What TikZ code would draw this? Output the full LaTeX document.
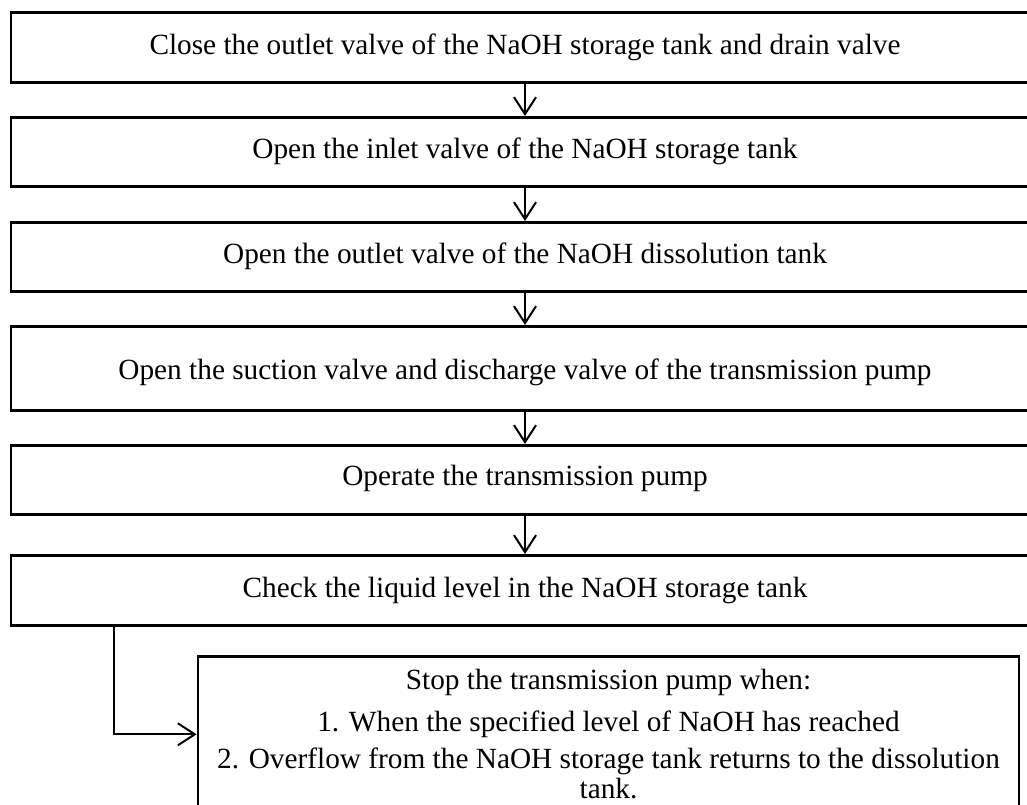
\documentclass[tikz,border=0pt]{standalone}
\usepackage{fontspec}
\setmainfont{Liberation Serif}
\usetikzlibrary{arrows.meta,calc}
\tikzset{
  stepbox/.style={draw, line width=2.6pt, minimum width=1028pt, inner sep=0pt, anchor=north},
  boxtext/.style={font=\fontsize{29.3}{34}\selectfont, inner sep=0pt},
  arr/.style={line width=2pt, -{Straight Barb[length=17pt,width=22pt,line width=2pt]}}
}
\begin{document}
\begin{tikzpicture}[x=1pt,y=-1pt]
\useasboundingbox (0,0) rectangle (1027,805);
\node[stepbox, minimum height=70pt] (b1) at (525,11) {};
\node[stepbox, minimum height=69pt] (b2) at (525,116) {};
\node[stepbox, minimum height=69pt] (b3) at (525,221) {};
\node[stepbox, minimum height=84pt] (b4) at (525,325) {};
\node[stepbox, minimum height=69pt] (b5) at (525,444) {};
\node[stepbox, minimum height=70pt] (b6) at (525,554) {};
\node[draw, line width=2.6pt, minimum width=821pt, minimum height=156pt, inner sep=0pt, anchor=north] (b7) at (608.5,655) {};

\node[boxtext] (t1) at (b1.center) {Close the outlet valve of the NaOH storage tank and drain valve};
\node[boxtext] (t2) at (b2.center) {Open the inlet valve of the NaOH storage tank};
\node[boxtext] (t3) at (b3.center) {Open the outlet valve of the NaOH dissolution tank};
\node[boxtext] (t4) at ([yshift=-4pt]b4.center) {Open the suction valve and discharge valve of the transmission pump};
\node[boxtext] (t5) at ([yshift=1pt]b5.center) {Operate the transmission pump};
\node[boxtext] (t6) at (b6.center) {Check the liquid level in the NaOH storage tank};

\node[boxtext, anchor=base] (s1) at (608.5,689) {Stop the transmission pump when:};
\node[boxtext, anchor=base] (s2) at (608.5,731) {1. When the specified level of NaOH has reached};
\node[boxtext, anchor=base] (s3) at (608.5,768) {2. Overflow from the NaOH storage tank returns to the dissolution};
\node[boxtext, anchor=base] (s4) at (608.5,798) {tank.};

\draw[arr] (b1.south) -- (b2.north);
\draw[arr] (b2.south) -- (b3.north);
\draw[arr] (b3.south) -- (b4.north);
\draw[arr] (b4.south) -- (b5.north);
\draw[arr] (b5.south) -- (b6.north);
\draw[arr] ([xshift=104pt]b6.south west) |- (b7.west);
\end{tikzpicture}
\end{document}
